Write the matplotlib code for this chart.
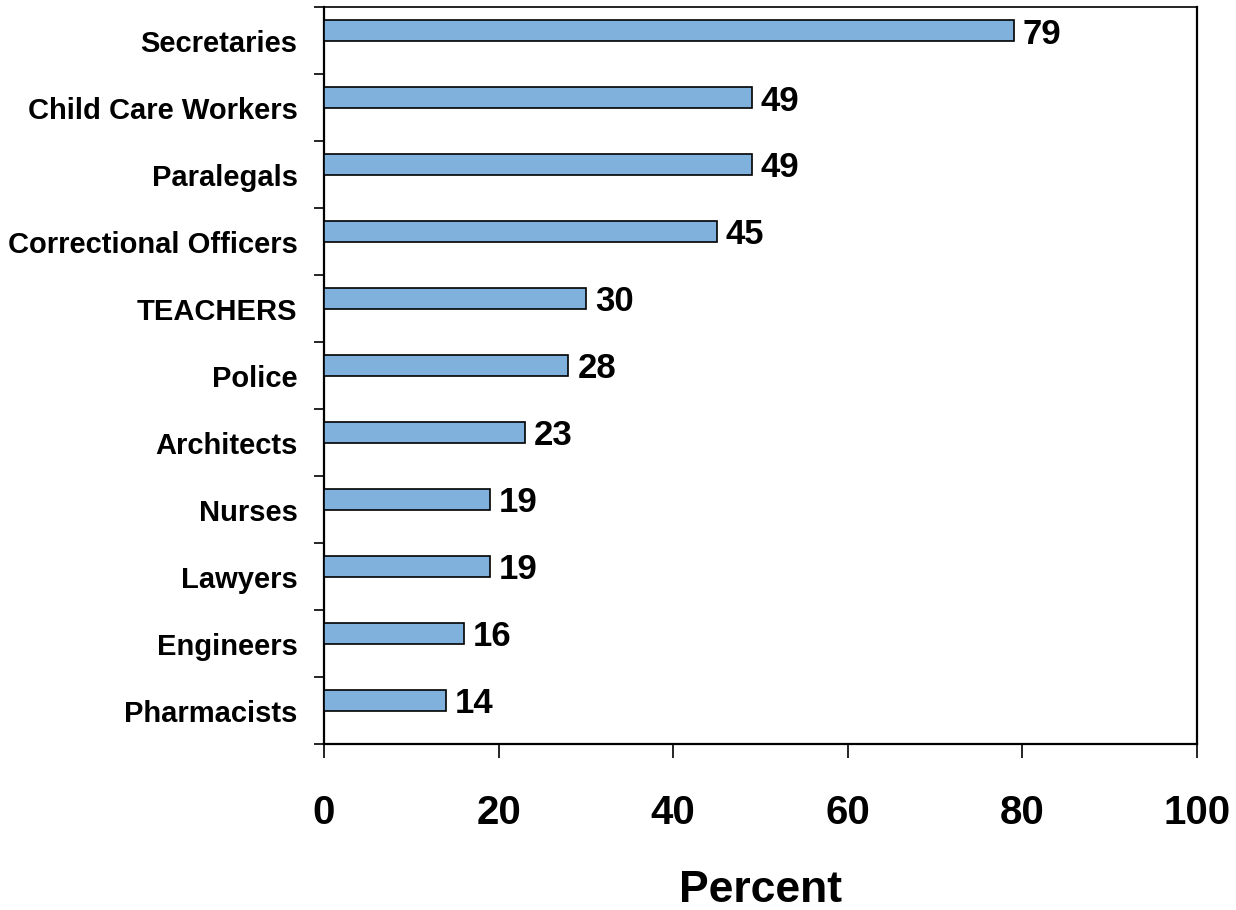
import matplotlib
matplotlib.use("Agg")

import matplotlib.pyplot as plt  # noqa: E402
import numpy as np  # noqa: E402

# Share of workers in each occupation, top to bottom
OCCUPATIONS = [
    "Secretaries", "Child Care Workers", "Paralegals", "Correctional Officers",
    "TEACHERS", "Police", "Architects", "Nurses", "Lawyers", "Engineers",
    "Pharmacists",
]
PERCENTS = [79, 49, 49, 45, 30, 28, 23, 19, 19, 16, 14]
X_TICKS = [0, 20, 40, 60, 80, 100]

BAR_COLOR = "#80b1dd"

plt.rcParams.update({
    "font.family": ["Liberation Sans", "DejaVu Sans"],
    "font.weight": "bold",
})

fig = plt.figure(figsize=(12.36, 9.10), dpi=100)
ax = fig.add_axes([0.2621, 0.1824, 0.7063, 0.8094])

pos = np.arange(len(OCCUPATIONS))
# bars sit in the upper half of each category slot
ax.barh(pos - 0.155, PERCENTS, height=0.31, color=BAR_COLOR,
        edgecolor="black", linewidth=1.2, zorder=3)

for y, v in zip(pos, PERCENTS):
    ax.annotate(f"{v}", xy=(v, y - 0.155), xytext=(6.5, 0),
                textcoords="offset points", ha="left", va="center_baseline",
                fontsize=25, fontweight="bold")

ax.set_xlim(0, 100)
ax.set_ylim(len(OCCUPATIONS) - 0.5, -0.5)

ax.set_xticks(X_TICKS)
ax.set_xticklabels([str(t) for t in X_TICKS], fontsize=29, fontweight="bold")
ax.tick_params(axis="x", direction="out", length=10, width=1.2, pad=26)

# labels at slot centres, tick marks on slot boundaries
ax.set_yticks(pos)
ax.set_yticklabels(OCCUPATIONS, fontsize=21, fontweight="bold")
ax.set_yticks(np.arange(-0.5, len(OCCUPATIONS) + 0.5, 1.0), minor=True)
ax.tick_params(axis="y", which="major", length=0, pad=19)
ax.tick_params(axis="y", which="minor", direction="out", length=7, width=1.2)

ax.set_xlabel("Percent", fontsize=32, fontweight="bold", labelpad=27)

for side in ("left", "bottom", "right", "top"):
    ax.spines[side].set_linewidth(1.6)
ax.spines["top"].set_linewidth(1.2)

fig.savefig("out.png", dpi=100)
